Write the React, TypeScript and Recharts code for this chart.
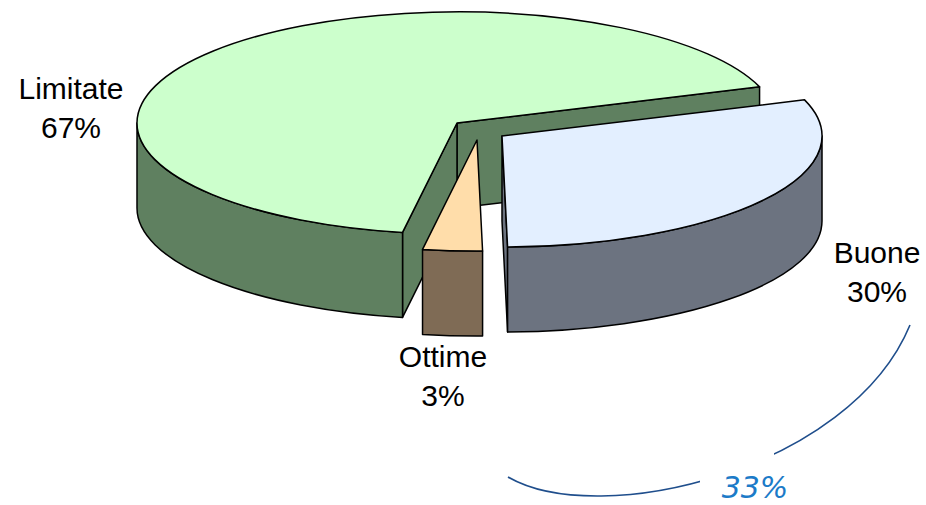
import { Cell, Customized, Pie, PieChart } from "recharts";

const names = ["Limitate", "Ottime", "Buone"];
const shares = [67, 3, 30];
const grouped = ["Ottime", "Buone"];

const topColors = ["#CCFFCC", "#FFDDAA", "#E3EFFF"];
const sideColors = ["#5F8060", "#7F6B55", "#6C7380"];

// slice offsets (exploded), label anchors
const explode: Record<string, [number, number]> = { Ottime: [20, 17], Buone: [45, 13] };
const labelAt: Record<string, [number, number]> = {
  Limitate: [71, 99],
  Ottime: [443, 367],
  Buone: [877, 263],
};

const data = names.map((name, i) => ({ name, value: shares[i] }));

const TILT = 0.347;
const DEPTH = 85;

function Slice(props: any) {
  const { cx, cy, outerRadius, startAngle, endAngle } = props;
  const name = props.payload?.name ?? props.name;
  const idx = names.indexOf(name);
  const [ox, oy] = explode[name] || [0, 0];
  const x0 = cx + ox;
  const y0 = cy + oy;
  const rx = outerRadius;
  const ry = outerRadius * TILT;
  const pt = (a: number, dy = 0) => {
    const r = (a * Math.PI) / 180;
    return [x0 + rx * Math.cos(r), y0 - ry * Math.sin(r) + dy];
  };
  const s = Math.min(startAngle, endAngle);
  const e = Math.max(startAngle, endAngle);
  const stroke = { stroke: "#000", strokeWidth: 1.5, strokeLinejoin: "round" as const };

  const faces: string[] = [];
  const face = (a: number) => {
    const [px, py] = pt(a);
    return `M${x0},${y0} L${px},${py} L${px},${py + DEPTH} L${x0},${y0 + DEPTH} Z`;
  };
  if (Math.cos((s * Math.PI) / 180) > 0) faces.push(face(s));
  if (Math.cos((e * Math.PI) / 180) < 0) faces.push(face(e));

  const walls: string[] = [];
  for (const [lo, hi] of [
    [180, 360],
    [540, 720],
  ]) {
    const a1 = Math.max(s, lo);
    const a2 = Math.min(e, hi);
    if (a2 > a1) {
      const [x1, y1] = pt(a1);
      const [x2, y2] = pt(a2);
      walls.push(
        `M${x1},${y1} A${rx},${ry} 0 0 0 ${x2},${y2} L${x2},${y2 + DEPTH} A${rx},${ry} 0 0 1 ${x1},${y1 + DEPTH} Z`
      );
    }
  }

  const [sx, sy] = pt(s);
  const [ex, ey] = pt(e);
  const large = e - s > 180 ? 1 : 0;
  const top = `M${x0},${y0} L${sx},${sy} A${rx},${ry} 0 ${large} 0 ${ex},${ey} Z`;

  return (
    <g>
      {faces.map((d, i) => (
        <path key={"f" + i} d={d} fill={sideColors[idx]} {...stroke} />
      ))}
      {walls.map((d, i) => (
        <path key={"w" + i} d={d} fill={sideColors[idx]} {...stroke} />
      ))}
      <path d={top} fill={topColors[idx]} {...stroke} />
    </g>
  );
}

function renderLabel(props: any) {
  const name = props.payload?.name ?? props.name;
  const [x, y] = labelAt[name];
  return (
    <text
      key={name}
      textAnchor="middle"
      fontFamily="'Liberation Sans', Arial, sans-serif"
      fontSize={30}
      fill="#000"
    >
      <tspan x={x} y={y}>
        {name}
      </tspan>
      <tspan x={x} y={y + 39}>
        {Math.round(props.percent * 100)}%
      </tspan>
    </text>
  );
}

function GroupNote() {
  const total = shares.reduce((a, b) => a + b, 0);
  const part = data.filter((d) => grouped.includes(d.name)).reduce((a, d) => a + d.value, 0);
  return (
    <g>
      <path d="M508,477 C600,530 850,470 910,325" fill="none" stroke="#1F4E8C" strokeWidth={1.6} />
      <rect x={700} y={452} width={74} height={53} fill="#fff" />
      <text
        x={755}
        y={498}
        textAnchor="middle"
        fontFamily="'DejaVu Sans', Verdana, sans-serif"
        fontStyle="italic"
        fontSize={30}
        fill="#1C7BC8"
      >
        {Math.round((part / total) * 100)}%
      </text>
    </g>
  );
}

export default function App() {
  return (
    <div style={{ position: "absolute", left: 0, top: 0, width: 926, height: 505, background: "#fff" }}>
      <PieChart width={926} height={505} margin={{ top: 0, right: 0, bottom: 0, left: 0 }}>
        <Pie
          data={data}
          dataKey="value"
          nameKey="name"
          cx={457}
          cy={123}
          innerRadius={0}
          outerRadius={320}
          startAngle={19}
          endAngle={379}
          isAnimationActive={false}
          labelLine={false}
          label={renderLabel}
          shape={Slice}
          activeShape={Slice}
          inactiveShape={Slice}
          stroke="#000"
        >
          {data.map((_, i) => (
            <Cell key={i} fill={topColors[i]} />
          ))}
        </Pie>
        <Customized component={GroupNote} />
      </PieChart>
    </div>
  );
}
